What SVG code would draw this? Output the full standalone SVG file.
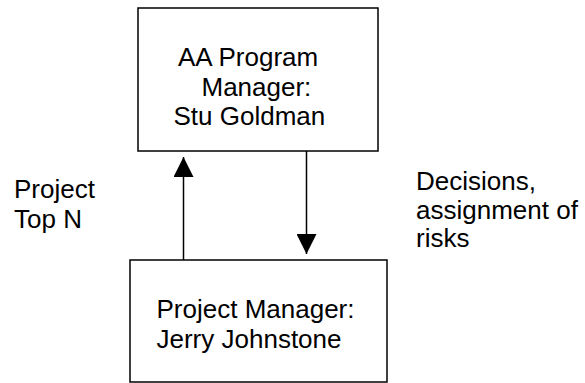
<svg xmlns="http://www.w3.org/2000/svg" width="585" height="383" viewBox="0 0 585 383">
  <defs>
    <marker id="arrow" viewBox="0 0 20 20" markerWidth="20" markerHeight="20" refX="20" refY="10" orient="auto" markerUnits="userSpaceOnUse">
      <path d="M0,0 L20,10 L0,20 Z" fill="#000"/>
    </marker>
    <style>
      .box { fill: #fff; stroke: #000; stroke-width: 1.5; }
      .edge { fill: none; stroke: #000; stroke-width: 1.5; marker-end: url(#arrow); }
      .label { font-family: "Liberation Sans", Arial, sans-serif; font-size: 26px; fill: #000; }
    </style>
  </defs>
  <rect width="585" height="383" fill="#fff"/>

  <g id="connectors">
    <line class="edge" x1="183.5" y1="260" x2="183.5" y2="157"/>
    <line class="edge" x1="306.5" y1="151" x2="306.5" y2="254"/>
  </g>

  <g id="program-manager">
    <rect class="box" x="138" y="8" width="240" height="143"/>
    <text class="label" x="178" y="66">AA Program</text>
    <text class="label" x="201.5" y="95.5">Manager:</text>
    <text class="label" x="173.5" y="125">Stu Goldman</text>
  </g>

  <g id="project-manager">
    <rect class="box" x="130" y="260" width="257" height="122"/>
    <text class="label" x="156.5" y="318">Project Manager:</text>
    <text class="label" x="156.5" y="348">Jerry Johnstone</text>
  </g>

  <g id="label-top-n">
    <text class="label" x="14" y="198">Project</text>
    <text class="label" x="14" y="227.5">Top N</text>
  </g>

  <g id="label-decisions">
    <text class="label" x="416" y="189.5">Decisions,</text>
    <text class="label" x="416" y="218.5">assignment of</text>
    <text class="label" x="416" y="247">risks</text>
  </g>
</svg>
